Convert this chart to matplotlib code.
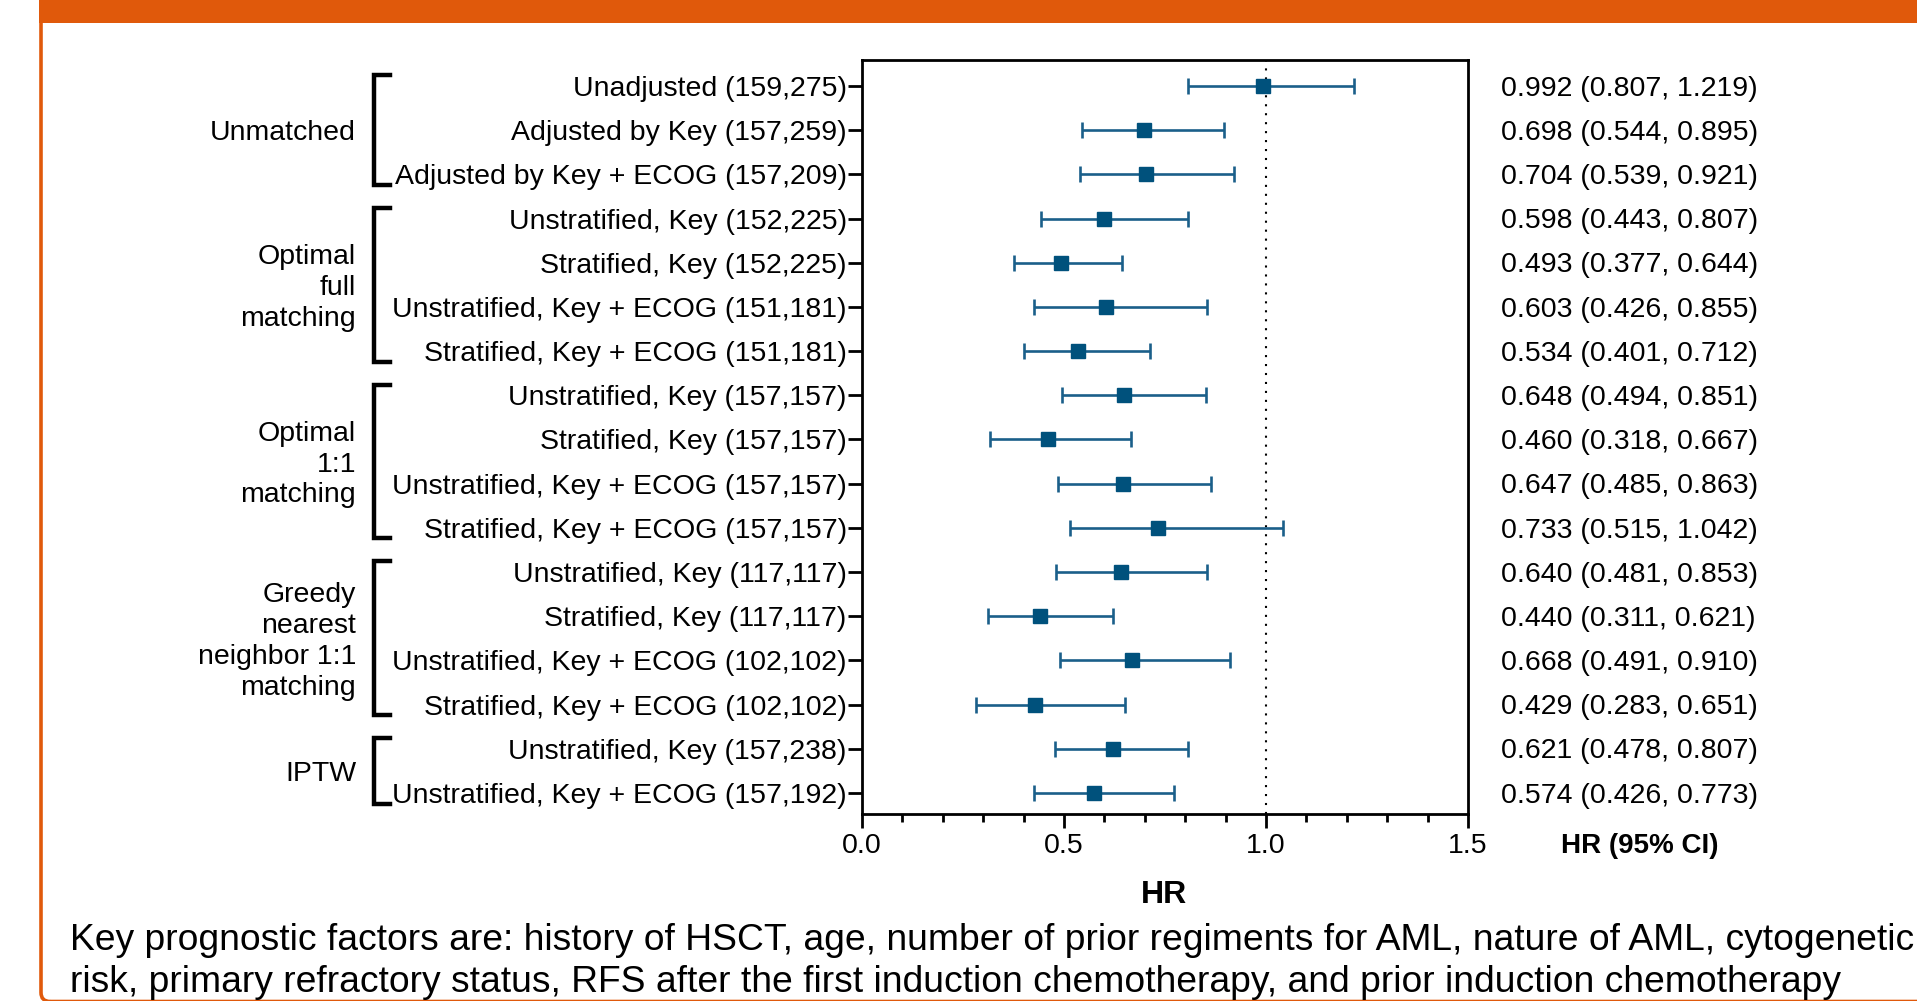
import matplotlib
matplotlib.use("Agg")
import matplotlib.pyplot as plt
import matplotlib.transforms as mtransforms
from matplotlib.patches import Rectangle, FancyBboxPatch
from matplotlib.ticker import MultipleLocator

plt.rcParams['font.family'] = ['Liberation Sans', 'DejaVu Sans']

# --- data (top row first) ---
labels = [
    "Unadjusted (159,275)", "Adjusted by Key (157,259)", "Adjusted by Key + ECOG (157,209)",
    "Unstratified, Key (152,225)", "Stratified, Key (152,225)",
    "Unstratified, Key + ECOG (151,181)", "Stratified, Key + ECOG (151,181)",
    "Unstratified, Key (157,157)", "Stratified, Key (157,157)",
    "Unstratified, Key + ECOG (157,157)", "Stratified, Key + ECOG (157,157)",
    "Unstratified, Key (117,117)", "Stratified, Key (117,117)",
    "Unstratified, Key + ECOG (102,102)", "Stratified, Key + ECOG (102,102)",
    "Unstratified, Key (157,238)", "Unstratified, Key + ECOG (157,192)",
]
hr = [0.992, 0.698, 0.704, 0.598, 0.493, 0.603, 0.534, 0.648, 0.460, 0.647, 0.733,
      0.640, 0.440, 0.668, 0.429, 0.621, 0.574]
ci_lo = [0.807, 0.544, 0.539, 0.443, 0.377, 0.426, 0.401, 0.494, 0.318, 0.485, 0.515,
         0.481, 0.311, 0.491, 0.283, 0.478, 0.426]
ci_hi = [1.219, 0.895, 0.921, 0.807, 0.644, 0.855, 0.712, 0.851, 0.667, 0.863, 1.042,
         0.853, 0.621, 0.910, 0.651, 0.807, 0.773]
group_names = ["Unmatched", "Optimal\nfull\nmatching", "Optimal\n1:1\nmatching",
               "Greedy\nnearest\nneighbor 1:1\nmatching", "IPTW"]
group_first = [0, 3, 7, 11, 15]
group_last = [2, 6, 10, 14, 16]
footnote = ["Key prognostic factors are: history of HSCT, age, number of prior regiments for AML, nature of AML, cytogenetic",
            "risk, primary refractory status, RFS after the first induction chemotherapy, and prior induction chemotherapy"]

ORANGE = "#E0590B"
BLUE_LINE = "#1A5F8A"
BLUE_MARK = "#00517C"
FS = 20.5
W, H = 1917, 1001

fig = plt.figure(figsize=(W / 100, H / 100), dpi=100)

# slide frame: orange header bar + left border with rounded bottom corner
fig.patches.append(Rectangle((39 / W, 1 - 23 / H), 1, 23 / H, transform=fig.transFigure,
                             facecolor=ORANGE, edgecolor="none", zorder=0))
fig.patches.append(FancyBboxPatch((0.41, -0.005), 25, 12, boxstyle="round,pad=0,rounding_size=0.09",
                                  transform=fig.dpi_scale_trans, facecolor="none",
                                  edgecolor=ORANGE, lw=2.6, zorder=0))

ax = fig.add_axes([862 / W, 1 - 814 / H, (1468 - 862) / W, (814 - 60) / H])
y = list(range(len(labels)))
xerr = [[h - l for h, l in zip(hr, ci_lo)], [u - h for h, u in zip(hr, ci_hi)]]
ax.errorbar(hr, y, xerr=xerr, fmt="none", ecolor=BLUE_LINE, elinewidth=1.9,
            capsize=6, capthick=1.9, zorder=3)
ax.plot(hr, y, "s", color=BLUE_MARK, ms=10, mec=BLUE_MARK, zorder=4)
ax.axvline(1.0, color="black", lw=1.5, ls=(0, (1, 3.3)), zorder=2)

ax.set_xlim(0, 1.5)
ax.set_ylim(16.475, -0.588)
ax.xaxis.set_major_locator(MultipleLocator(0.5))
ax.xaxis.set_minor_locator(MultipleLocator(0.1))
ax.set_xticks([0, 0.5, 1.0, 1.5], ["0.0", "0.5", "1.0", "1.5"])
ax.set_yticks(y, labels)
ax.tick_params(axis="both", which="major", labelsize=FS, width=2, length=10, direction="out")
ax.tick_params(axis="y", pad=1)
ax.tick_params(axis="x", pad=4)
ax.tick_params(axis="x", which="minor", width=2, length=6, direction="out")
for sp in ax.spines.values():
    sp.set_linewidth(2)
    sp.set_color("black")

# right column: HR (95% CI)
rt = ax.get_yaxis_transform()
for yi, h, l, u in zip(y, hr, ci_lo, ci_hi):
    ax.text(1.054, yi + 0.06, f"{h:.3f} ({l:.3f}, {u:.3f})", transform=rt,
            ha="left", va="center", fontsize=FS)
fig.text(1640 / W, 1 - 846 / H, "HR (95% CI)", ha="center", va="center",
         fontsize=20, fontweight="bold")
fig.text(1164 / W, 1 - 895 / H, "HR", ha="center", va="center", fontsize=23, fontweight="bold")

# group brackets + labels
bt = mtransforms.blended_transform_factory(fig.transFigure, ax.transData)
bx, serif = 374 / W, 390 / W
for name, a, b in zip(group_names, group_first, group_last):
    top, bot = a - 0.24, b + 0.24
    ax.plot([serif, bx, bx, serif], [top, top, bot, bot], color="black", lw=3.2,
            transform=bt, clip_on=False, solid_joinstyle="miter")
    ax.text(356 / W, (a + b) / 2 + 0.07, name, transform=bt, ha="right", va="center",
            fontsize=FS, linespacing=1.24, multialignment="right")

# footnote
fig.text(70 / W, 1 - 940 / H, footnote[0], ha="left", va="center", fontsize=26.8)
fig.text(70 / W, 1 - 982 / H, footnote[1], ha="left", va="center", fontsize=26.8)

fig.savefig("out.png", dpi=100)
